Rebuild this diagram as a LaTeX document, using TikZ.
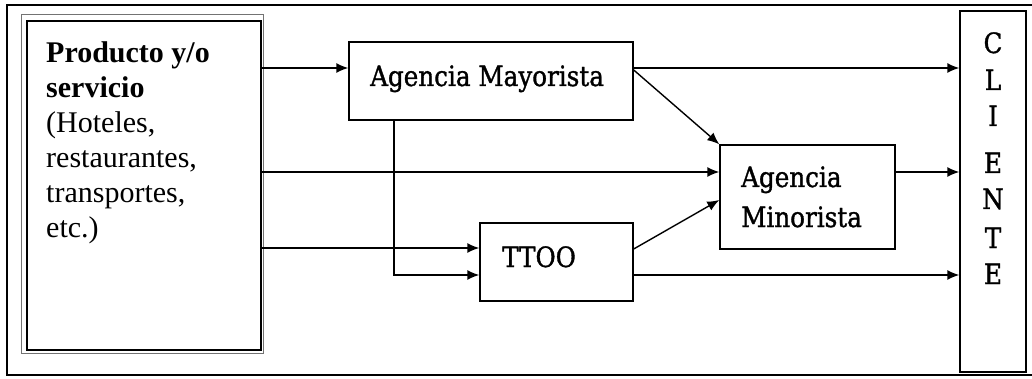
\documentclass[tikz,border=0pt]{standalone}
\usepackage{fontspec}
\setmainfont{Liberation Serif}
\newfontfamily\lblfont[FakeStretch=0.88,FakeBold=1.2]{DejaVu Serif}
\usetikzlibrary{arrows.meta}
\tikzset{
  line/.style={draw=black, line width=1.4pt},
  arr/.style={line, -{Latex[length=12pt,width=10pt]}},
  box/.style={draw=black, line width=1.4pt, inner sep=0pt, fill=white},
  lbl/.style={anchor=base west, inner sep=0pt, font=\lblfont\fontsize{28}{28}\selectfont},
  prodline/.style={anchor=base west, inner sep=0pt, font=\fontsize{30}{30}\selectfont},
  letter/.style={anchor=base, inner sep=0pt, font=\lblfont\fontsize{28}{28}\selectfont},
}
\begin{document}
\begin{tikzpicture}[x=1pt, y=-1pt]
\useasboundingbox (0,0) rectangle (1032,379);
% outer frame
\draw[line width=2pt] (1032,5) -- (7,5) -- (7,375) -- (1032,375);

% source box with double border
\draw[draw=black!55, line width=1pt] (21,15) rectangle (263,353);
\node[box, minimum width=234pt, minimum height=329pt] (prod) at (144,185.5) {};
\node[prodline] (p1) at (46,63) {\textbf{Producto y/o}};
\node[prodline] (p2) at (46,98) {\textbf{servicio}};
\node[prodline] (p3) at (46,133) {(Hoteles,};
\node[prodline] (p4) at (46,168) {restaurantes,};
\node[prodline] (p5) at (46,203) {transportes,};
\node[prodline] (p6) at (46,237) {etc.)};

% intermediaries
\node[box, minimum width=284pt, minimum height=78pt] (may) at (491,81) {};
\node[lbl] (maytxt) at (370,86) {Agencia Mayorista};

\node[box, minimum width=153pt, minimum height=78pt] (ttoo) at (556.5,262) {};
\node[lbl] (ttootxt) at (502,267) {TTOO};

\node[box, minimum width=175pt, minimum height=104pt] (min) at (807.5,197) {};
\node[lbl] (mintxt1) at (741,187) {Agencia};
\node[lbl] (mintxt2) at (741,227) {Minorista};

% customer column
\node[box, minimum width=66pt, minimum height=361pt] (cli) at (993,191.5) {};
\node[letter] (c1) at (993,53) {C};
\node[letter] (c2) at (993,90) {L};
\node[letter] (c3) at (993,126) {I};
\node[letter] (c4) at (993,173) {E};
\node[letter] (c5) at (993,209) {N};
\node[letter] (c6) at (993,248) {T};
\node[letter] (c7) at (993,284) {E};

% connectors
\draw[arr] (prod.east |- 0,68) -- (may.west |- 0,68);
\draw[arr] (may.east |- 0,68) -- (cli.west |- 0,68);
\draw[arr] (may.east |- 0,70) -- (min.north west);
\draw[arr] (prod.east |- 0,172) -- (min.west |- 0,172);
\draw[arr] (min.east |- 0,172) -- (cli.west |- 0,172);
\draw[arr] (prod.east |- 0,248) -- (ttoo.west |- 0,248);
\draw[arr] (may.south -| 394,0) |- (ttoo.west |- 0,275);
\draw[arr] (ttoo.east |- 0,249) -- (min.west |- 0,200);
\draw[arr] (ttoo.east |- 0,275) -- (cli.west |- 0,275);
\end{tikzpicture}
\end{document}
